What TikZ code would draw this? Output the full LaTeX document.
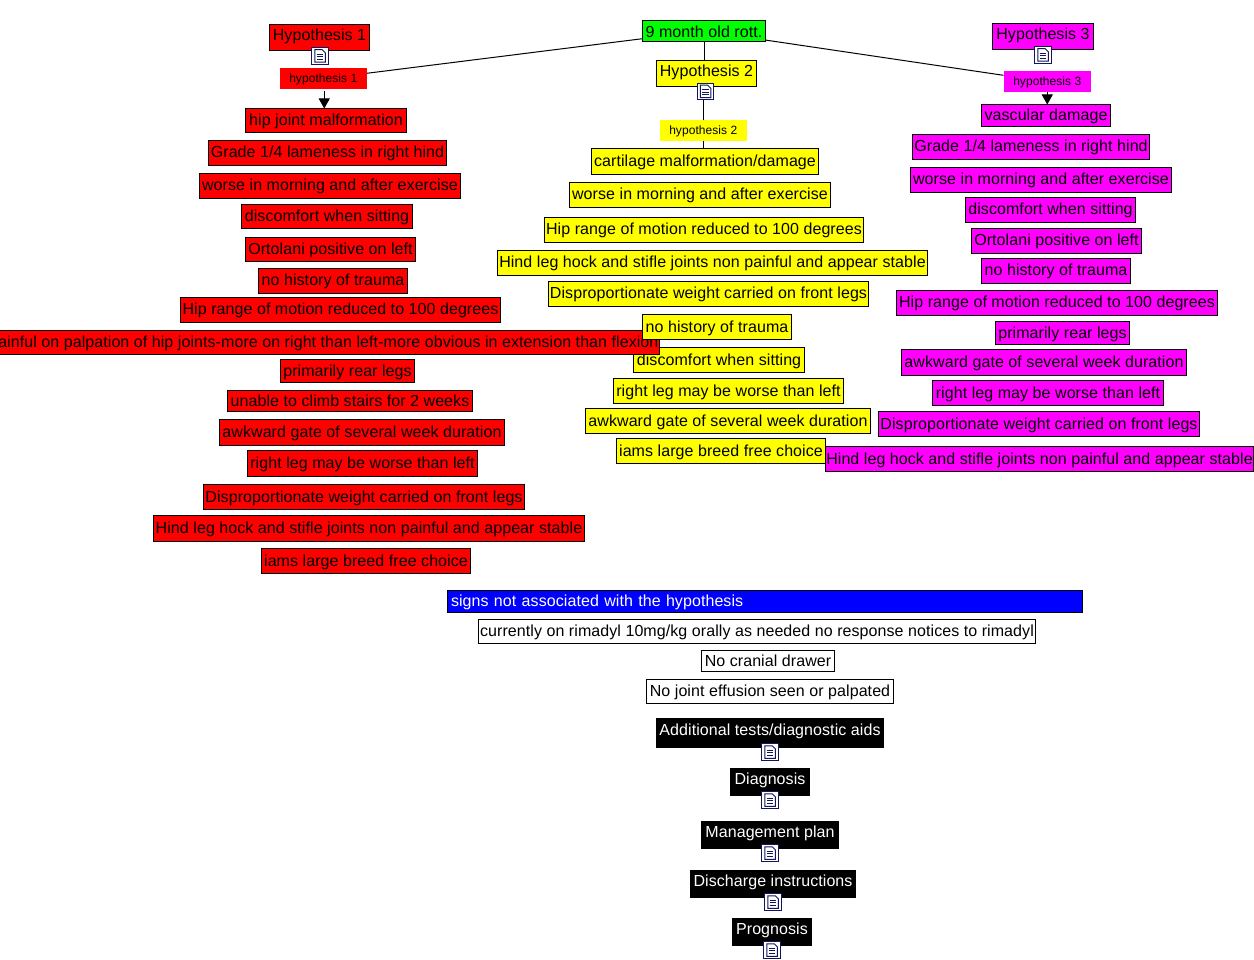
\documentclass[tikz,border=0pt]{standalone}
\usepackage{fontspec}
\setmainfont[LetterSpace=0.5]{Liberation Sans}
\usetikzlibrary{arrows.meta}
\definecolor{navyicon}{RGB}{20,20,90}
\definecolor{cRed}{RGB}{255,0,0}
\definecolor{cYellow}{RGB}{255,255,0}
\definecolor{cMag}{RGB}{255,0,255}
\definecolor{cGreen}{RGB}{0,255,0}
\definecolor{cBlue}{RGB}{0,0,255}
\tikzset{
  bigbox/.style={draw=black,line width=1pt,inner sep=0pt,outer sep=0pt,text height=12.5pt,text depth=2.5pt,font=\fontsize{16}{18}\selectfont,text=black},
  headtext/.style={text height=11.5pt,text depth=5.5pt},
  redbox/.style={bigbox,fill=cRed},
  yellowbox/.style={bigbox,fill=cYellow},
  magbox/.style={bigbox,fill=cMag},
  greenbox/.style={bigbox,fill=cGreen,text height=14pt,text depth=1pt},
  whitebox/.style={bigbox,fill=white},
  blackbox/.style={bigbox,fill=black,text=white,text height=11.5pt,text depth=7.5pt},
  bluebox/.style={bigbox,fill=cBlue,text=white,text width=628pt,align=left},
  smallbox/.style={inner sep=0pt,outer sep=0pt,text height=9.5pt,text depth=1.5pt,font=\fontsize{12}{14}\selectfont,text=black},
  docicon/.style={draw=navyicon,line width=1.3pt,fill=white,inner sep=0pt,minimum width=16.5pt,minimum height=16.5pt,
    path picture={
      \draw[navyicon,line width=1pt] ([shift={(3pt,2pt)}]path picture bounding box.south west) -- ++(0,12.5pt) -- ++(7.5pt,0) -- ++(3pt,-3pt) -- ++(0,-9.5pt) -- cycle;
      \foreach \q in {5,7.5,10}{\draw[navyicon,line width=.9pt] ([shift={(5pt,\q pt)}]path picture bounding box.south west) -- ++(6.5pt,0);}
    }},
  link/.style={draw=black,line width=1pt},
  linkarrow/.style={link,-{Triangle[length=10pt,width=11pt]}}
}
\newcommand{\bx}[7]{%
  \pgfmathsetlengthmacro{\bxw}{#3-#2-1}\pgfmathsetlengthmacro{\bxh}{#5-#4-1}%
  \node[#6,minimum width=\bxw,minimum height=\bxh] (#1) at ({(#2+#3)/2},{(#4+#5)/2}) {#7};}
\begin{document}
\begin{tikzpicture}[x=1pt,y=-1pt]
\clip (0,0) rectangle (1254,960);
\fill[white] (0,0) rectangle (1254,960);
\bx{root}{642}{766}{20}{42}{greenbox}{9 month old rott.}
\bx{hOneS}{279}{367.5}{68}{89.5}{smallbox,fill=cRed}{hypothesis 1}
\bx{hTwoS}{659}{747.5}{120}{141.5}{smallbox,fill=cYellow}{hypothesis 2}
\bx{hThreeS}{1003}{1091.5}{71}{92.5}{smallbox,fill=cMag}{hypothesis 3}
% yellow column
\bx{hTwo}{656}{757}{60}{87}{yellowbox,headtext}{Hypothesis 2}
\bx{y1}{591}{819}{148}{175}{yellowbox}{cartilage malformation/damage}
\bx{y2}{569}{831}{182}{208}{yellowbox}{worse in morning and after exercise}
\bx{y3}{544}{864}{217}{243}{yellowbox}{Hip range of motion reduced to 100 degrees}
\bx{y4}{497}{928}{250}{276}{yellowbox}{Hind leg hock and stifle joints non painful and appear stable}
\bx{y5}{548}{869}{281}{307}{yellowbox}{Disproportionate weight carried on front legs}
\bx{y7}{633}{805}{347}{373}{yellowbox}{discomfort when sitting}
\bx{y8}{613}{844}{378}{404}{yellowbox}{right leg may be worse than left}
\bx{y9}{585}{871}{408}{434}{yellowbox}{awkward gate of several week duration}
\bx{y10}{616}{826}{438}{464}{yellowbox}{iams large breed free choice}
% red column
\bx{hOne}{269}{370}{24}{51}{redbox,headtext}{Hypothesis 1}
\bx{r1}{245}{407}{108}{133}{redbox}{hip joint malformation}
\bx{r2}{208}{447}{140}{166}{redbox}{Grade 1/4 lameness in right hind}
\bx{r3}{199}{461}{173}{199}{redbox}{worse in morning and after exercise}
\bx{r4}{241}{413}{204}{229}{redbox}{discomfort when sitting}
\bx{r5}{245}{416}{237}{262}{redbox}{Ortolani positive on left}
\bx{r6}{258}{408}{268}{294}{redbox}{no history of trauma}
\bx{r7}{180}{501}{297}{323}{redbox}{Hip range of motion reduced to 100 degrees}
\bx{r8}{-14}{660}{330}{355}{redbox}{Painful on palpation of hip joints-more on right than left-more obvious in extension than flexion}
\bx{r9}{280}{415}{359}{383}{redbox}{primarily rear legs}
\bx{r10}{227}{473}{390}{412}{redbox}{unable to climb stairs for 2 weeks}
\bx{r11}{219}{505}{419}{446}{redbox}{awkward gate of several week duration}
\bx{r12}{247}{478}{450}{477}{redbox}{right leg may be worse than left}
\bx{r13}{203}{525}{484}{510}{redbox}{Disproportionate weight carried on front legs}
\bx{r14}{153}{585}{515}{542}{redbox}{Hind leg hock and stifle joints non painful and appear stable}
\bx{r15}{261}{471}{548}{574}{redbox}{iams large breed free choice}
% this yellow box lies over the long red one
\bx{y6}{642}{792}{314}{340}{yellowbox}{no history of trauma}
% magenta column
\bx{hThree}{992}{1094}{23}{50}{magbox,headtext}{Hypothesis 3}
\bx{m1}{981}{1111}{104}{127}{magbox}{vascular damage}
\bx{m2}{912}{1150}{134}{160}{magbox}{Grade 1/4 lameness in right hind}
\bx{m3}{910}{1172}{167}{193}{magbox}{worse in morning and after exercise}
\bx{m4}{965}{1136}{197}{223}{magbox}{discomfort when sitting}
\bx{m5}{971}{1142}{228}{254}{magbox}{Ortolani positive on left}
\bx{m6}{981}{1131}{258}{284}{magbox}{no history of trauma}
\bx{m7}{896}{1218}{290}{316}{magbox}{Hip range of motion reduced to 100 degrees}
\bx{m8}{995}{1130}{321}{345}{magbox}{primarily rear legs}
\bx{m9}{901}{1187}{349}{376}{magbox}{awkward gate of several week duration}
\bx{m10}{932}{1164}{380}{406}{magbox}{right leg may be worse than left}
\bx{m11}{878}{1200}{411}{437}{magbox}{Disproportionate weight carried on front legs}
\bx{m12}{825}{1254}{446}{472}{magbox}{Hind leg hock and stifle joints non painful and appear stable}
% lower block
\bx{b0}{447}{1083}{590}{613}{bluebox}{signs not associated with the hypothesis}
\bx{w1}{478}{1036}{619}{644}{whitebox}{currently on rimadyl 10mg/kg orally as needed no response notices to rimadyl}
\bx{w2}{701}{835}{650}{672}{whitebox}{No cranial drawer}
\bx{w3}{646}{894}{679}{704}{whitebox}{No joint effusion seen or palpated}
\bx{k1}{656}{884}{718}{748}{blackbox}{Additional tests/diagnostic aids}
\bx{k2}{730}{810}{768}{796}{blackbox}{Diagnosis}
\bx{k3}{701}{839}{821}{849}{blackbox}{Management plan}
\bx{k4}{690}{856}{870}{898}{blackbox}{Discharge instructions}
\bx{k5}{732}{812}{918}{946}{blackbox}{Prognosis}
% icons
\node[docicon] (iOne) at (320,56) {};
\node[docicon] (iTwo) at (705.5,91.5) {};
\node[docicon] (iThree) at (1043,55) {};
\node[docicon] (iA) at (770,752) {};
\node[docicon] (iB) at (770,800) {};
\node[docicon] (iC) at (770,853) {};
\node[docicon] (iD) at (773,902) {};
\node[docicon] (iE) at (772,950) {};
% connectors
\draw[link] (root) -- (hOneS);
\draw[link] (root) -- (hThreeS);
\draw[link] (root.south) -- (root.south |- hTwo.north);
\draw[link] (hTwoS.north) -- (hTwoS.north |- iTwo.south);
\draw[link] (hTwoS.south) -- (hTwoS.south |- y1.north);
\draw[linkarrow] ([xshift=1pt,yshift=-2pt]hOneS.south) -- ([xshift=1pt]hOneS.south |- r1.north);
\draw[linkarrow] (hThreeS.south) -- (hThreeS.south |- m1.north);
\end{tikzpicture}
\end{document}
